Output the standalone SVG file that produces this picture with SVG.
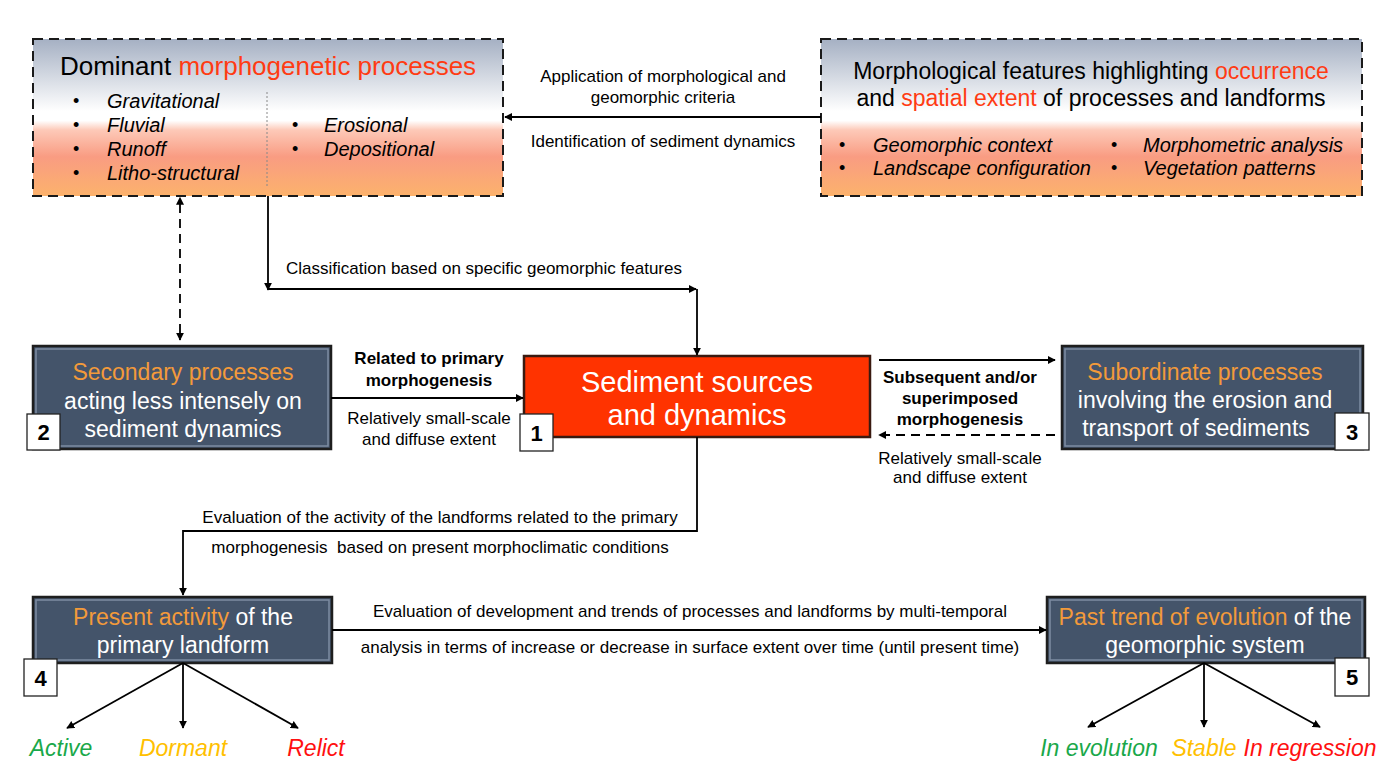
<svg xmlns="http://www.w3.org/2000/svg" width="1378" height="780" viewBox="0 0 1378 780">
<defs>
<linearGradient id="topgrad" x1="0" y1="0" x2="0" y2="1">
<stop offset="0" stop-color="#a5b0c3"/>
<stop offset="0.46" stop-color="#ffffff"/>
<stop offset="0.52" stop-color="#ffffff"/>
<stop offset="0.58" stop-color="#fdc9b8"/>
<stop offset="0.75" stop-color="#f99c82"/>
<stop offset="1" stop-color="#fcb26c"/>
</linearGradient>
<marker id="ah" viewBox="0 0 10 10" refX="9" refY="5" markerWidth="8" markerHeight="8" orient="auto" markerUnits="userSpaceOnUse">
<path d="M0,0 L10,5 L0,10 z" fill="#000"/>
</marker>
<marker id="ahs" viewBox="0 0 10 10" refX="1" refY="5" markerWidth="8" markerHeight="8" orient="auto-start-reverse" markerUnits="userSpaceOnUse">
<path d="M0,0 L10,5 L0,10 z" fill="#000"/>
</marker>
</defs>
<style>
text{font-family:"Liberation Sans",Arial,sans-serif;}
.dash{fill:url(#topgrad);stroke:#1a1a1a;stroke-width:2;stroke-dasharray:10,6;}
.dark{fill:#44546a;stroke:#1e1e1e;stroke-width:2.5;}
.bevel{fill:none;stroke:#7d8ca3;stroke-width:1.5;}
.red{fill:#ff3300;stroke:#3a1a10;stroke-width:2.5;}
.num{fill:#fff;stroke:#222;stroke-width:1.3;}
.numt{font-size:22px;font-weight:bold;fill:#000;text-anchor:middle;}
.wt{font-size:23px;fill:#fff;text-anchor:middle;}
.or{fill:#f39a3a;}
.redt{fill:#ff3b13;}
.it{font-size:20px;font-style:italic;fill:#000;}
.bul{font-size:18px;fill:#000;}
.lab{font-size:17px;fill:#000;text-anchor:middle;}
.lb{font-size:17px;fill:#000;text-anchor:middle;font-weight:bold;}
.ln{fill:none;stroke:#000;stroke-width:1.8;}
.res{font-size:23px;font-style:italic;text-anchor:middle;}
</style>

<g id="node-dominant">
<rect class="dash" x="33" y="39" width="470" height="157"/>
<text x="268" y="75" font-size="26" text-anchor="middle" fill="#000">Dominant <tspan class="redt">morphogenetic processes</tspan></text>
<line x1="267" y1="92" x2="267" y2="186" stroke="#888" stroke-width="1" stroke-dasharray="2,2"/>
<g class="bul"><text x="73" y="107">•</text><text x="73" y="131">•</text><text x="73" y="155">•</text><text x="73" y="179">•</text><text x="292" y="131">•</text><text x="292" y="155">•</text></g>
<text class="it" x="107" y="108">Gravitational</text>
<text class="it" x="107" y="132">Fluvial</text>
<text class="it" x="107" y="156">Runoff</text>
<text class="it" x="107" y="180">Litho-structural</text>
<text class="it" x="324" y="132">Erosional</text>
<text class="it" x="324" y="156">Depositional</text>
</g>

<g id="node-features">
<rect class="dash" x="821" y="39" width="541" height="157"/>
<text x="1091" y="79" font-size="23" text-anchor="middle" fill="#000">Morphological features highlighting <tspan class="redt">occurrence</tspan></text>
<text x="1091" y="106" font-size="23" text-anchor="middle" fill="#000">and <tspan class="redt">spatial extent</tspan> of processes and landforms</text>
<g class="bul"><text x="839" y="151">•</text><text x="839" y="174">•</text><text x="1111" y="151">•</text><text x="1111" y="174">•</text></g>
<text class="it" x="873" y="152">Geomorphic context</text>
<text class="it" x="873" y="175">Landscape configuration</text>
<text class="it" x="1143" y="152">Morphometric analysis</text>
<text class="it" x="1143" y="175">Vegetation patterns</text>
</g>

<g id="node-2">
<rect class="dark" x="33" y="346" width="298" height="103"/>
<rect class="bevel" x="36" y="349" width="292" height="97"/>
<text class="wt" x="183" y="380"><tspan class="or">Secondary processes</tspan></text>
<text class="wt" x="183" y="409">acting less intensely on</text>
<text class="wt" x="183" y="437">sediment dynamics</text>
<rect class="num" x="27" y="414" width="33" height="36"/>
<text class="numt" x="43.5" y="440">2</text>
</g>

<g id="node-1">
<rect class="red" x="524" y="356" width="346" height="81"/>
<text x="697" y="392" font-size="29" fill="#fff" text-anchor="middle">Sediment sources</text>
<text x="697" y="425" font-size="29" fill="#fff" text-anchor="middle">and dynamics</text>
<rect class="num" x="520" y="414" width="33" height="37"/>
<text class="numt" x="536.5" y="441">1</text>
</g>

<g id="node-3">
<rect class="dark" x="1062" y="346" width="301" height="103"/>
<rect class="bevel" x="1065" y="349" width="295" height="97"/>
<text class="wt" x="1205" y="380"><tspan class="or">Subordinate processes</tspan></text>
<text class="wt" x="1205" y="408">involving the erosion and</text>
<text class="wt" x="1196" y="436">transport of sediments</text>
<rect class="num" x="1335" y="413" width="34" height="37"/>
<text class="numt" x="1352" y="440">3</text>
</g>

<g id="node-4">
<rect class="dark" x="33" y="597" width="299" height="66"/>
<rect class="bevel" x="36" y="600" width="293" height="60"/>
<text class="wt" x="183" y="625"><tspan class="or">Present activity</tspan> of the</text>
<text class="wt" x="183" y="653">primary landform</text>
<rect class="num" x="24" y="659" width="33" height="37"/>
<text class="numt" x="40.5" y="686">4</text>
</g>

<g id="node-5">
<rect class="dark" x="1047" y="597" width="318" height="66"/>
<rect class="bevel" x="1050" y="600" width="312" height="60"/>
<text class="wt" x="1205" y="625"><tspan class="or">Past trend of evolution</tspan> of the</text>
<text class="wt" x="1205" y="653">geomorphic system</text>
<rect class="num" x="1335" y="658" width="34" height="38"/>
<text class="numt" x="1352" y="685">5</text>
</g>

<g id="results">
<text class="res" x="61" y="756" fill="#1aa84a">Active</text>
<text class="res" x="183" y="756" fill="#ffc000">Dormant</text>
<text class="res" x="316" y="756" fill="#ff1010">Relict</text>
<text class="res" x="1099" y="756" fill="#1aa84a">In evolution</text>
<text class="res" x="1204" y="756" fill="#ffc000">Stable</text>
<text class="res" x="1310" y="756" fill="#ff1010">In regression</text>
</g>

<g id="connectors">
<line class="ln" x1="821" y1="117" x2="505" y2="117" marker-end="url(#ah)"/>
<line class="ln" x1="180" y1="204" x2="180" y2="340" stroke-dasharray="9,6" marker-start="url(#ahs)" marker-end="url(#ah)"/>
<line class="ln" x1="268" y1="196" x2="268" y2="290" marker-end="url(#ah)"/>
<line class="ln" x1="268" y1="289" x2="696" y2="289" marker-end="url(#ah)"/>
<line class="ln" x1="697" y1="289" x2="697" y2="355" marker-end="url(#ah)"/>
<line class="ln" x1="331" y1="398" x2="523" y2="398" marker-end="url(#ah)"/>
<line class="ln" x1="879" y1="360" x2="1055" y2="360" marker-end="url(#ah)"/>
<line class="ln" x1="1055" y1="435" x2="879" y2="435" stroke-dasharray="9,6" marker-end="url(#ah)"/>
<polyline class="ln" points="697,437 697,531 183,531 183,595" marker-end="url(#ah)"/>
<line class="ln" x1="332" y1="630" x2="1046" y2="630" marker-end="url(#ah)"/>
<line class="ln" x1="183" y1="663" x2="67" y2="728" marker-end="url(#ah)"/>
<line class="ln" x1="183" y1="663" x2="183" y2="728" marker-end="url(#ah)"/>
<line class="ln" x1="183" y1="663" x2="298" y2="728" marker-end="url(#ah)"/>
<line class="ln" x1="1204" y1="663" x2="1088" y2="727" marker-end="url(#ah)"/>
<line class="ln" x1="1204" y1="663" x2="1204" y2="727" marker-end="url(#ah)"/>
<line class="ln" x1="1204" y1="663" x2="1320" y2="727" marker-end="url(#ah)"/>
</g>

<g id="labels">
<text class="lab" x="663" y="82">Application of morphological and</text>
<text class="lab" x="663" y="103">geomorphic criteria</text>
<text class="lab" x="663" y="147">Identification of sediment dynamics</text>
<text class="lab" x="484" y="274">Classification based on specific geomorphic features</text>
<text class="lb" x="429" y="364">Related to primary</text>
<text class="lb" x="429" y="386">morphogenesis</text>
<text class="lab" x="429" y="424">Relatively small-scale</text>
<text class="lab" x="429" y="445">and diffuse extent</text>
<text class="lb" x="960" y="383">Subsequent and/or</text>
<text class="lb" x="960" y="404">superimposed</text>
<text class="lb" x="960" y="425">morphogenesis</text>
<text class="lab" x="960" y="464">Relatively small-scale</text>
<text class="lab" x="960" y="483">and diffuse extent</text>
<text class="lab" x="440" y="523">Evaluation of the activity of the landforms related to the primary</text>
<text class="lab" x="440" y="553" xml:space="preserve">morphogenesis  based on present morphoclimatic conditions</text>
<text class="lab" x="690" y="617">Evaluation of development and trends of processes and landforms by multi-temporal</text>
<text class="lab" x="690" y="653">analysis in terms of increase or decrease in surface extent over time (until present time)</text>
</g>
</svg>
